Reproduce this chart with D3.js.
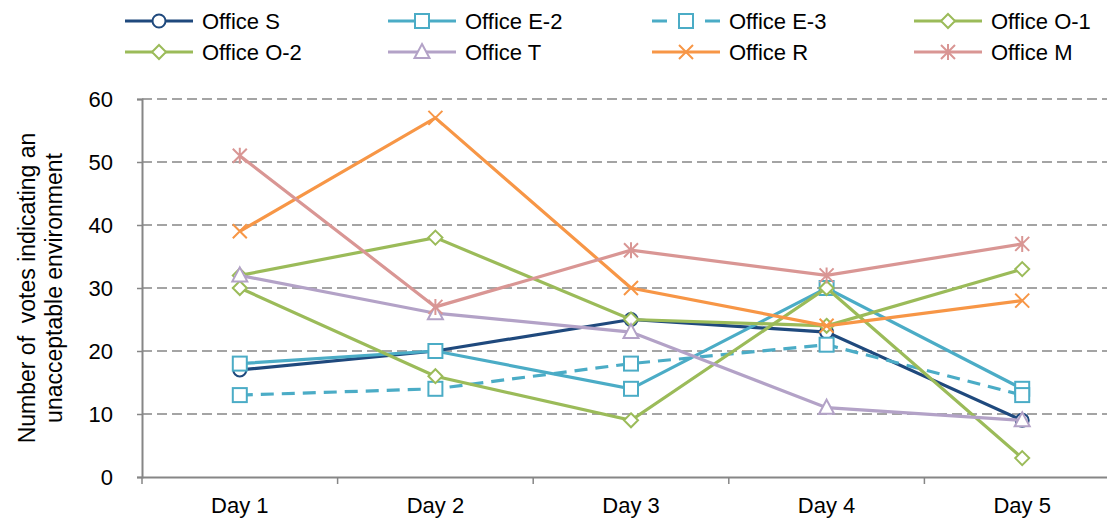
<!DOCTYPE html>
<html>
<head>
<meta charset="utf-8">
<script src="https://cdn.jsdelivr.net/npm/d3@7"></script>
<style>
  body { margin: 0; background: #fff; }
  svg { display: block; font-family: "Liberation Sans", Arial, sans-serif; }
</style>
</head>
<body>
<div id="chart"></div>
<script>
// ---------- Data ----------
const days = ["Day 1", "Day 2", "Day 3", "Day 4", "Day 5"];
const yTicks = [0, 10, 20, 30, 40, 50, 60];

const officeS  = [17, 20, 25, 23, 9];
const officeE2 = [18, 20, 14, 30, 14];
const officeE3 = [13, 14, 18, 21, 13];
const officeO1 = [32, 38, 25, 24, 33];
const officeO2 = [30, 16, 9, 30, 3];
const officeT  = [32, 26, 23, 11, 9];
const officeR  = [39, 57, 30, 24, 28];
const officeM  = [51, 27, 36, 32, 37];

const series = [
  { name: "Office S",   values: officeS,  color: "#1F497D", marker: "circle" },
  { name: "Office E-2", values: officeE2, color: "#4BACC6", marker: "square" },
  { name: "Office E-3", values: officeE3, color: "#4BACC6", marker: "square", dash: "13,8" },
  { name: "Office O-1", values: officeO1, color: "#9BBB59", marker: "diamond" },
  { name: "Office O-2", values: officeO2, color: "#9BBB59", marker: "diamond" },
  { name: "Office T",   values: officeT,  color: "#B3A2C7", marker: "triangle" },
  { name: "Office R",   values: officeR,  color: "#F79646", marker: "x" },
  { name: "Office M",   values: officeM,  color: "#D99694", marker: "star" }
];

// ---------- Layout ----------
const width = 1107, height = 526;
const plot = { left: 142, right: 1120, top: 99, bottom: 477 };
const axisColor = "#868686";

const svg = d3.select("#chart").append("svg")
  .attr("width", width)
  .attr("height", height);

const x = d3.scaleBand().domain(days).range([plot.left, plot.right]);
const y = d3.scaleLinear().domain([0, 60]).range([plot.bottom, plot.top]);
const cx = d => x(d) + x.bandwidth() / 2;

// ---------- Grid ----------
svg.append("g")
  .selectAll("line")
  .data(yTicks.filter(t => t > 0))
  .join("line")
  .attr("x1", plot.left).attr("x2", plot.right)
  .attr("y1", d => y(d)).attr("y2", d => y(d))
  .attr("stroke", axisColor)
  .attr("stroke-width", 1.5)
  .attr("stroke-dasharray", "10,5");

// ---------- Axes ----------
const yAxis = svg.append("g")
  .attr("transform", `translate(${plot.left},0)`)
  .call(d3.axisLeft(y).tickValues(yTicks).tickSize(5).tickPadding(24));
yAxis.select(".domain").attr("stroke", axisColor).attr("stroke-width", 2);
yAxis.selectAll(".tick line").attr("stroke", axisColor).attr("stroke-width", 1.5);
yAxis.selectAll("text").attr("font-size", 22).attr("fill", "#000")
  .attr("font-family", "Liberation Sans, Arial, sans-serif");

const xAxis = svg.append("g")
  .attr("transform", `translate(0,${plot.bottom})`)
  .call(d3.axisBottom(x).tickSize(0).tickPadding(20));
xAxis.select(".domain").attr("stroke", axisColor).attr("stroke-width", 2);
xAxis.selectAll("text").attr("font-size", 22).attr("fill", "#000")
  .attr("font-family", "Liberation Sans, Arial, sans-serif");

// category boundary ticks
svg.append("g")
  .selectAll("line")
  .data(days)
  .join("line")
  .attr("x1", d => x(d)).attr("x2", d => x(d))
  .attr("y1", plot.bottom).attr("y2", plot.bottom + 7)
  .attr("stroke", axisColor)
  .attr("stroke-width", 1.5);

// y title
const yTitle = svg.append("text")
  .attr("transform", `translate(0,288) rotate(-90)`)
  .attr("text-anchor", "middle")
  .attr("font-size", 23)
  .attr("fill", "#000")
  .style("white-space", "pre");
yTitle.append("tspan").attr("x", 0).attr("y", 35).text("Number of  votes indicating an");
yTitle.append("tspan").attr("x", 0).attr("y", 62).text("unacceptable environment");

// ---------- Markers ----------
function drawMarker(sel, type, color) {
  const s = 7;
  if (type === "circle") {
    sel.append("circle").attr("r", 6.5)
      .attr("fill", "#fff").attr("stroke", color).attr("stroke-width", 2);
  } else if (type === "square") {
    sel.append("rect").attr("x", -7).attr("y", -7).attr("width", 14).attr("height", 14)
      .attr("fill", "#fff").attr("stroke", color).attr("stroke-width", 2);
  } else if (type === "diamond") {
    sel.append("path").attr("d", `M0,${-s}L${s},0L0,${s}L${-s},0Z`)
      .attr("fill", "#fff").attr("stroke", color).attr("stroke-width", 2);
  } else if (type === "triangle") {
    sel.append("path").attr("d", `M0,-8L7.5,6L-7.5,6Z`)
      .attr("fill", "#fff").attr("stroke", color).attr("stroke-width", 2);
  } else if (type === "x") {
    sel.append("path").attr("d", `M${-s},${-s}L${s},${s}M${-s},${s}L${s},${-s}`)
      .attr("fill", "none").attr("stroke", color).attr("stroke-width", 2);
  } else if (type === "star") {
    sel.append("path").attr("d", `M${-s},${-s}L${s},${s}M${-s},${s}L${s},${-s}M0,${-s - 1}L0,${s + 1}`)
      .attr("fill", "none").attr("stroke", color).attr("stroke-width", 2);
  }
}

// ---------- Lines ----------
const line = d3.line()
  .x((d, i) => cx(days[i]))
  .y(d => y(d));

series.forEach(s => {
  const g = svg.append("g");
  g.append("path")
    .datum(s.values)
    .attr("d", line)
    .attr("fill", "none")
    .attr("stroke", s.color)
    .attr("stroke-width", 3.2)
    .attr("stroke-dasharray", s.dash || null);
  g.selectAll("g.pt")
    .data(s.values)
    .join("g")
    .attr("class", "pt")
    .attr("transform", (d, i) => `translate(${cx(days[i])},${y(d)})`)
    .each(function () { drawMarker(d3.select(this), s.marker, s.color); });
});

// ---------- Legend ----------
const legendCols = [125, 388, 652, 914];
const legendRows = [21, 52];
series.forEach((s, i) => {
  const lx = legendCols[i % 4];
  const ly = legendRows[Math.floor(i / 4)];
  const g = svg.append("g").attr("transform", `translate(${lx},${ly})`);
  g.append("line")
    .attr("x1", 0).attr("x2", 68)
    .attr("stroke", s.color)
    .attr("stroke-width", 3.2)
    .attr("stroke-dasharray", s.dash ? "15,38,15" : null);
  drawMarker(g.append("g").attr("transform", "translate(34,0)"), s.marker, s.color);
  g.append("text")
    .attr("x", 77).attr("y", 8)
    .attr("font-size", 22)
    .attr("fill", "#000")
    .text(s.name);
});
</script>
</body>
</html>
